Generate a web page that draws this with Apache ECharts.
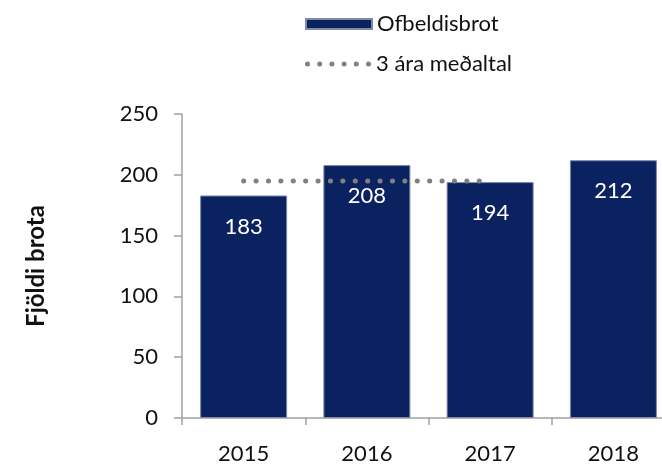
<!DOCTYPE html>
<html>
<head>
<meta charset="utf-8">
<script src="https://cdn.jsdelivr.net/npm/echarts@6/dist/echarts.min.js"></script>
<style>
  html, body { margin: 0; padding: 0; background: #fff; }
  #chart { width: 662px; height: 465px; }
</style>
</head>
<body>
<div id="chart"></div>
<script>
const years = ["2015", "2016", "2017", "2018"];
const offences = [183, 208, 194, 212];
const avg3 = [195, 195, 195, null];
const yTicks = [0, 50, 100, 150, 200, 250];

const font = "Lato, 'Open Sans', sans-serif";

// six grey dots for the legend icon of the average line
let dotsPath = "path://";
for (let i = 0; i < 6; i++) {
  const cx = 2.5 + i * 12.2;
  dotsPath += "M" + (cx - 2.5) + ",2.5 a2.5,2.5 0 1,0 5,0 a2.5,2.5 0 1,0 -5,0 Z ";
}

const chart = echarts.init(document.getElementById("chart"));

const legendText = { fontSize: 22, color: "#111", fontFamily: font };

chart.setOption({
  animation: false,
  textStyle: { fontFamily: font },
  legend: [
    {
      left: 305,
      top: 13,
      padding: 0,
      itemWidth: 66,
      itemHeight: 10,
      itemGap: 6,
      textStyle: legendText,
      data: [{ name: "Ofbeldisbrot", icon: "rect" }],
    },
    {
      left: 305,
      top: 53,
      padding: 0,
      itemWidth: 66,
      itemHeight: 5,
      itemGap: 7,
      textStyle: legendText,
      data: [{ name: "3 ára meðaltal", icon: dotsPath, itemStyle: { color: "#808080" } }],
    },
  ],
  grid: { left: 182, top: 114, bottom: 47, width: 493, outerBoundsMode: "none" },
  xAxis: {
    type: "category",
    data: years,
    axisLine: { lineStyle: { color: "#a0a0a0", width: 1.5 } },
    axisTick: { show: true, length: 7, lineStyle: { color: "#a0a0a0", width: 1.5 } },
    axisLabel: { fontSize: 22, color: "#111", margin: 25 },
  },
  yAxis: {
    type: "value",
    min: yTicks[0],
    max: yTicks[yTicks.length - 1],
    interval: 50,
    name: "Fjöldi brota",
    nameLocation: "middle",
    nameGap: 134,
    nameTextStyle: { fontSize: 24, fontWeight: "bold", color: "#111" },
    splitLine: { show: false },
    axisLine: { show: true, lineStyle: { color: "#a0a0a0", width: 1.5 } },
    axisTick: { show: true, length: 8, lineStyle: { color: "#a0a0a0", width: 1.5 } },
    axisLabel: { fontSize: 22, color: "#111", margin: 24 },
  },
  series: [
    {
      name: "Ofbeldisbrot",
      type: "bar",
      data: offences,
      barWidth: 87,
      itemStyle: { color: "#0b2260", borderColor: "#7f8aa8", borderWidth: 1 },
      label: {
        show: true,
        position: "insideTop",
        distance: 20,
        color: "#fff",
        fontSize: 22,
        fontFamily: font,
      },
    },
    {
      name: "3 ára meðaltal",
      type: "line",
      data: avg3,
      symbol: "none",
      z: 5,
      lineStyle: { color: "#808080", width: 5, type: [0.1, 12.3], cap: "round" },
      itemStyle: { color: "#808080" },
    },
  ],
});
</script>
</body>
</html>
